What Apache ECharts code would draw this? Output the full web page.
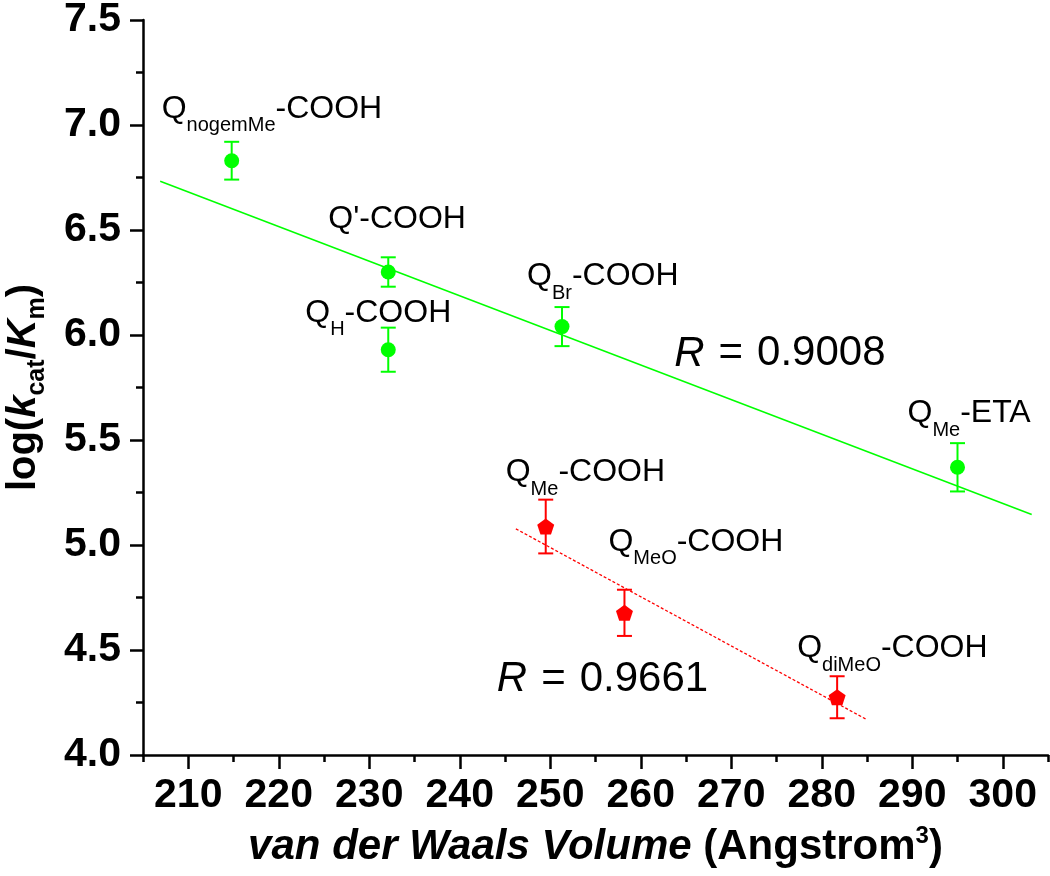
<!DOCTYPE html>
<html>
<head>
<meta charset="utf-8">
<script src="https://cdn.jsdelivr.net/npm/echarts@6/dist/echarts.min.js"></script>
<style>
  html, body { margin: 0; padding: 0; background: #fff; }
  #chart { width: 1050px; height: 876px; }
</style>
</head>
<body>
<div id="chart"></div>
<script>
// green set (circles) — fitted with the solid line
const greenNames = [
  ['Q', 'nogemMe', '-COOH'],
  ['Q\'-COOH', '', ''],
  ['Q', 'H', '-COOH'],
  ['Q', 'Br', '-COOH'],
  ['Q', 'Me', '-ETA']
];
const greenX = [214.8, 232.1, 232.1, 251.3, 295.0];
const greenY = [6.83, 6.30, 5.93, 6.04, 5.37];
const greenErr = [0.09, 0.07, 0.105, 0.093, 0.115];

// red set (pentagons) — fitted with the dashed line
const redNames = [
  ['Q', 'Me', '-COOH'],
  ['Q', 'MeO', '-COOH'],
  ['Q', 'diMeO', '-COOH']
];
const redX = [249.5, 258.2, 281.7];
const redY = [5.088, 4.677, 4.275];
const redErr = [0.128, 0.11, 0.10];

// linear fits
const greenFitX = [206.9, 303.2];
const greenFitY = [6.732, 5.145];
const redFitX = [246.2, 285.0];
const redFitY = [5.077, 4.168];

const greenR = '0.9008';
const redR = '0.9661';

// tick labels
const xMajorTicks = [210, 220, 230, 240, 250, 260, 270, 280, 290, 300];
const xMinorTicks = [205, 215, 225, 235, 245, 255, 265, 275, 285, 295, 305];

// label placement (pixel offsets from the marker centre)
const greenLabelOffsets = [[-70, -52], [-60, -53], [-83, -37], [-35, -50], [-50, -54]];
const redLabelOffsets = [[-40, -54], [-16, -71], [-40, -49]];
// R annotations, anchored in data coordinates
const rAnchors = [[263.7, 5.91], [244.1, 4.36]];

const GREEN = '#00ff00';
const RED = '#ff0000';
const FONT = '"Liberation Sans", Arial, sans-serif';

const chart = echarts.init(document.getElementById('chart'));

const labelRich = {
  m: { fontSize: 32, fontFamily: FONT, color: '#000', lineHeight: 36 },
  s: { fontSize: 20, fontFamily: FONT, color: '#000', lineHeight: 36, padding: [34, 0, 0, 0] }
};

const nameText = (parts) => {
  let str = '{m|' + parts[0] + '}';
  if (parts[1]) str += '{s|' + parts[1] + '}';
  if (parts[2]) str += '{m|' + parts[2] + '}';
  return str;
};

const pointData = (xs, ys, names, offsets) =>
  xs.map((x, i) => ({
    value: [x, ys[i]],
    label: { offset: offsets[i], formatter: nameText(names[i]) }
  }));

const errData = (xs, ys, errs) => xs.map((x, i) => [x, ys[i], errs[i]]);

const renderErr = (color) => (params, api) => {
  const x = api.value(0);
  const y = api.value(1);
  const e = api.value(2);
  const top = api.coord([x, y + e]);
  const bot = api.coord([x, y - e]);
  const half = 7.5;
  const style = { stroke: color, lineWidth: 2 };
  return {
    type: 'group',
    children: [
      { type: 'line', shape: { x1: top[0], y1: top[1], x2: bot[0], y2: bot[1] }, style },
      { type: 'line', shape: { x1: top[0] - half, y1: top[1], x2: top[0] + half, y2: top[1] }, style },
      { type: 'line', shape: { x1: bot[0] - half, y1: bot[1], x2: bot[0] + half, y2: bot[1] }, style }
    ]
  };
};

const pointLabel = {
  show: true,
  position: 'inside',
  align: 'left',
  verticalAlign: 'middle',
  color: '#000',
  textBorderWidth: 0,
  rich: labelRich
};

const pentagon = 'path://M0,-10 L9.51,-3.09 L5.88,8.09 L-5.88,8.09 L-9.51,-3.09 Z';

const option = {
  animation: false,
  backgroundColor: '#fff',
  grid: { left: 143, right: 2, top: 20, bottom: 121, outerBoundsMode: 'none' },
  xAxis: [
    {
      type: 'value',
      position: 'bottom',
      min: 205,
      max: 305,
      splitLine: { show: false },
      axisLine: { show: true, lineStyle: { color: '#000', width: 2.5 } },
      axisTick: { show: true, customValues: xMajorTicks, length: 14, lineStyle: { color: '#000', width: 2.5 } },
      axisLabel: {
        customValues: xMajorTicks,
        margin: 20,
        fontSize: 41,
        fontWeight: 'bold',
        fontFamily: FONT,
        color: '#000'
      },
      name: '{i|van der Waals Volume}{t| (Angstrom}{p|3}{t|)}',
      nameLocation: 'middle',
      nameGap: 68,
      nameTextStyle: {
        rich: {
          i: { fontSize: 42, fontWeight: 'bold', fontStyle: 'italic', fontFamily: FONT, color: '#000', lineHeight: 48 },
          t: { fontSize: 42, fontWeight: 'bold', fontFamily: FONT, color: '#000', lineHeight: 48 },
          p: { fontSize: 24, fontWeight: 'bold', fontFamily: FONT, color: '#000', lineHeight: 48, padding: [0, 0, 22, 0] }
        }
      }
    },
    {
      type: 'value',
      position: 'bottom',
      min: 205,
      max: 305,
      splitLine: { show: false },
      axisLine: { show: false },
      axisTick: { show: true, customValues: xMinorTicks, length: 7, lineStyle: { color: '#000', width: 2.5 } },
      axisLabel: { show: false }
    }
  ],
  yAxis: {
    type: 'value',
    min: 4,
    max: 7.5,
    interval: 0.5,
    splitLine: { show: false },
    axisLine: { show: true, lineStyle: { color: '#000', width: 2.5 } },
    axisTick: { show: true, length: 13, lineStyle: { color: '#000', width: 2.5 } },
    minorTick: { show: true, splitNumber: 2, length: 7, lineStyle: { color: '#000', width: 2.5 } },
    minorSplitLine: { show: false },
    axisLabel: {
      margin: 22,
      fontSize: 41,
      fontWeight: 'bold',
      fontFamily: FONT,
      color: '#000',
      formatter: (v) => v.toFixed(1)
    },
    name: '{t|log(}{i|k}{s|cat}{t|/}{i|K}{s|m}{t|)}',
    nameLocation: 'middle',
    nameRotate: 90,
    nameGap: 96,
    nameTextStyle: {
      rich: {
        t: { fontSize: 40, fontWeight: 'bold', fontFamily: FONT, color: '#000', lineHeight: 46 },
        i: { fontSize: 40, fontWeight: 'bold', fontStyle: 'italic', fontFamily: FONT, color: '#000', lineHeight: 46 },
        s: { fontSize: 25, fontWeight: 'bold', fontFamily: FONT, color: '#000', lineHeight: 46, padding: [27, 0, 0, 0] }
      }
    }
  },
  series: [
    {
      type: 'line',
      data: greenFitX.map((x, i) => [x, greenFitY[i]]),
      symbol: 'none',
      lineStyle: { color: GREEN, width: 1.5 },
      z: 1
    },
    {
      type: 'line',
      data: redFitX.map((x, i) => [x, redFitY[i]]),
      symbol: 'none',
      lineStyle: { color: RED, width: 1.3, type: [3, 2] },
      z: 1
    },
    {
      type: 'custom',
      data: errData(greenX, greenY, greenErr),
      renderItem: renderErr(GREEN),
      z: 2
    },
    {
      type: 'custom',
      data: errData(redX, redY, redErr),
      renderItem: renderErr(RED),
      z: 2
    },
    {
      type: 'scatter',
      data: pointData(greenX, greenY, greenNames, greenLabelOffsets),
      symbol: 'circle',
      symbolSize: 15,
      itemStyle: { color: GREEN, opacity: 1 },
      label: pointLabel,
      z: 3
    },
    {
      type: 'scatter',
      data: pointData(redX, redY, redNames, redLabelOffsets),
      symbol: pentagon,
      symbolSize: [17, 16],
      itemStyle: { color: RED, opacity: 1 },
      label: pointLabel,
      z: 3
    },
    {
      type: 'scatter',
      data: [greenR, redR].map((r, i) => ({
        value: rAnchors[i],
        label: { formatter: '{r|R}{e|=}{v|' + r + '}' }
      })),
      symbolSize: 0,
      itemStyle: { color: '#000', opacity: 1 },
      silent: true,
      label: {
        show: true,
        position: 'inside',
        align: 'left',
        verticalAlign: 'middle',
        color: '#000',
        opacity: 1,
        textBorderWidth: 0,
        rich: {
          r: { fontSize: 42, fontStyle: 'italic', fontFamily: FONT, color: '#000', lineHeight: 48 },
          e: { fontSize: 42, fontFamily: FONT, color: '#000', lineHeight: 48, padding: [0, 14, 0, 14] },
          v: { fontSize: 42, fontFamily: FONT, color: '#000', lineHeight: 48 }
        }
      },
      z: 4
    }
  ]
};

chart.setOption(option);
window.addEventListener('resize', () => chart.resize());
</script>
</body>
</html>
